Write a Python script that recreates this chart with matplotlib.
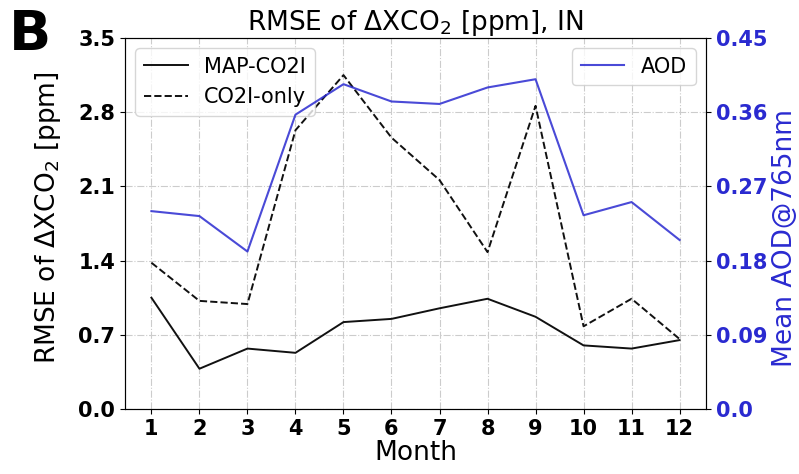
import matplotlib
matplotlib.use("Agg")
import matplotlib.pyplot as plt

months = list(range(1, 13))
map_co2i = [1.05, 0.38, 0.57, 0.53, 0.82, 0.85, 0.95, 1.04, 0.87, 0.60, 0.57, 0.65]
co2i_only = [1.38, 1.02, 0.99, 2.63, 3.15, 2.56, 2.16, 1.48, 2.86, 0.78, 1.04, 0.66]
aod = [0.240, 0.234, 0.191, 0.357, 0.394, 0.373, 0.370, 0.390, 0.400, 0.235, 0.251, 0.205]
left_ticks = [0.0, 0.7, 1.4, 2.1, 2.8, 3.5]
right_ticks = [0.0, 0.09, 0.18, 0.27, 0.36, 0.45]

blue = '#2a2ad0'
fig = plt.figure(figsize=(7.99, 4.74), dpi=100)
ax = fig.add_axes([125/799, 1-409/474, (706-125)/799, (409-38)/474])
ax.plot(months, map_co2i, color='#111111', lw=1.4, label='MAP-CO2I')
ax.plot(months, co2i_only, color='#111111', lw=1.4, ls='--', label='CO2I-only')
ax.set_ylim(0, 3.5)
ax.set_xlim(0.45, 12.55)
ax.set_yticks(left_ticks)
ax.set_yticklabels([f'{t:.1f}' for t in left_ticks])
ax.set_xticks(months)
ax.grid(True, ls='-.', color='#cccccc', lw=0.8)
for lab in ax.get_xticklabels() + ax.get_yticklabels():
    lab.set_fontweight('bold')
    lab.set_fontsize(15)
for s in ax.spines.values():
    s.set_color('#444444')
ax.set_xlabel('Month', fontsize=19, labelpad=1)
ax.set_ylabel('RMSE of $\\Delta$XCO$_2$ [ppm]', fontsize=19)
ax.yaxis.set_label_coords(-0.107, 0.515)
ax.set_title('RMSE of $\\Delta$XCO$_2$ [ppm], IN', fontsize=19, pad=3)
ax.legend(loc='upper left', fontsize=15, handlelength=2.1)

ax2 = ax.twinx()
ax2.plot(months, aod, color=blue, lw=1.5, label='AOD', alpha=0.85)
ax2.set_ylim(0, 0.45)
ax2.set_yticks(right_ticks)
ax2.set_yticklabels([f'{t:.2f}'.rstrip('0') if t != 0 else '0.0' for t in right_ticks])
for lab in ax2.get_yticklabels():
    lab.set_fontweight('bold')
    lab.set_fontsize(15)
    lab.set_color(blue)
ax2.set_ylabel('Mean AOD@765nm', fontsize=19, color=blue)
ax2.yaxis.set_label_coords(1.114, 0.46)
ax2.legend(loc='upper right', fontsize=15, handlelength=2.1)

fig.text(9/799, 1-50/474, 'B', fontsize=40, fontweight='bold')
fig.savefig('out.png', dpi=100)
